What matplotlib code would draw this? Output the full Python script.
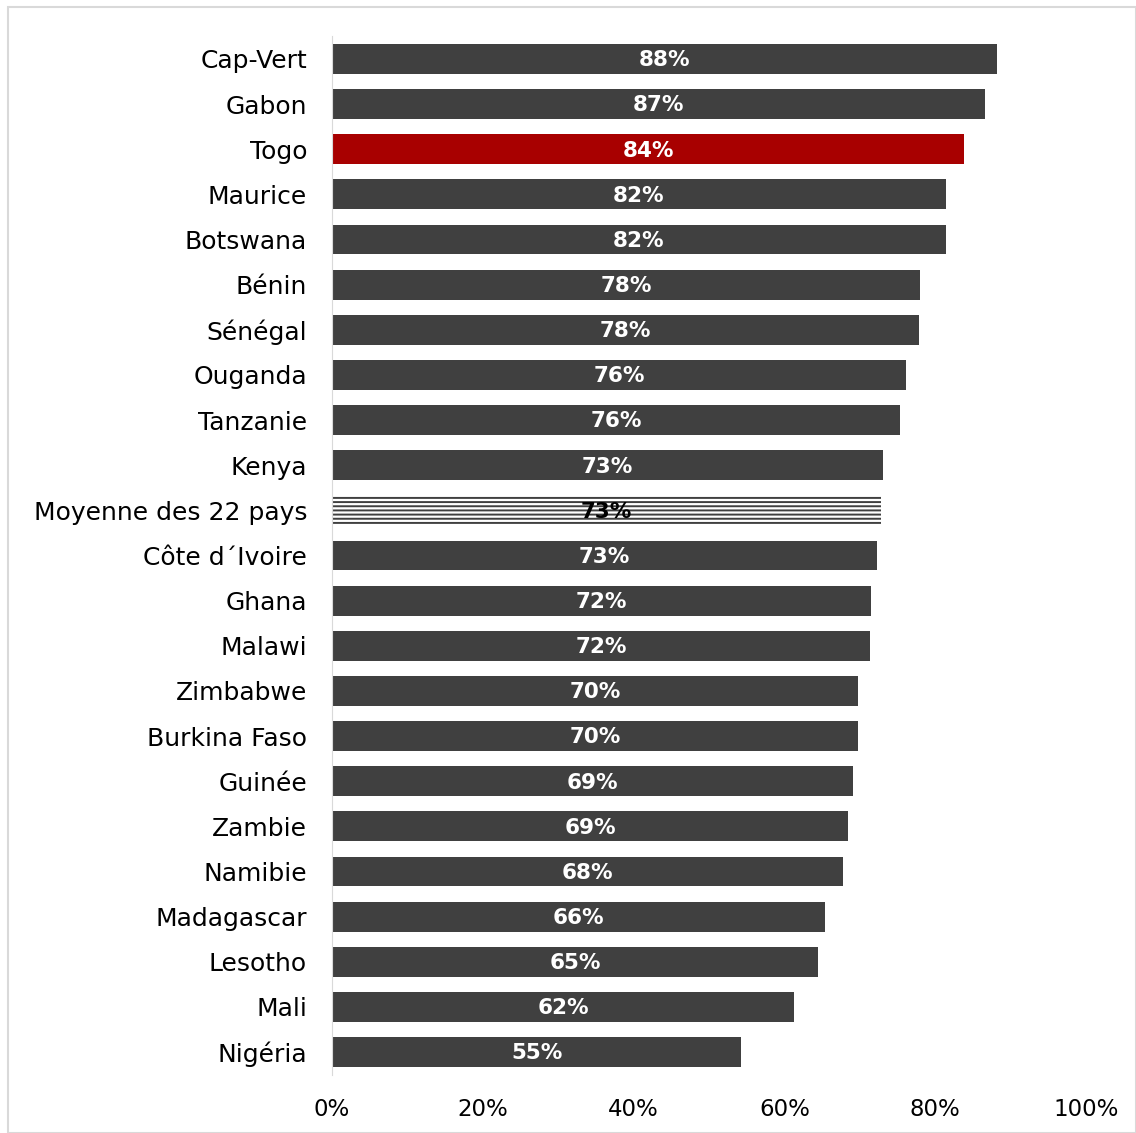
import numpy as np
import matplotlib.pyplot as plt
from matplotlib.patches import Rectangle

plt.rcParams['font.family'] = 'DejaVu Sans'
plt.rcParams['hatch.linewidth'] = 1.4

countries = ["Cap-Vert", "Gabon", "Togo", "Maurice", "Botswana", "Bénin", "Sénégal",
             "Ouganda", "Tanzanie", "Kenya", "Moyenne des 22 pays", "Côte d´Ivoire",
             "Ghana", "Malawi", "Zimbabwe", "Burkina Faso", "Guinée", "Zambie",
             "Namibie", "Madagascar", "Lesotho", "Mali", "Nigéria"]
values = [88.2, 86.6, 83.8, 81.4, 81.4, 78.0, 77.8, 76.1, 75.3, 73.1, 72.8, 72.3,
          71.5, 71.4, 69.8, 69.7, 69.1, 68.4, 67.8, 65.4, 64.4, 61.3, 54.3]
labels = ["88%", "87%", "84%", "82%", "82%", "78%", "78%", "76%", "76%", "73%", "73%",
          "73%", "72%", "72%", "70%", "70%", "69%", "69%", "68%", "66%", "65%", "62%", "55%"]

dark = "#404040"
red = "#A80000"

fig = plt.figure(figsize=(11.36, 11.33), dpi=100)
ax = fig.add_axes([0.2923, 0.0515, 0.6637, 0.9164])

y = np.arange(len(countries))
for i, (c, v, lab) in enumerate(zip(countries, values, labels)):
    if c == "Togo":
        ax.barh(i, v, height=0.66, color=red)
        col = "white"
    elif c.startswith("Moyenne"):
        ax.barh(i, v, height=0.66, color="white", edgecolor="#404040", hatch="----", linewidth=0)
        col = "black"
    else:
        ax.barh(i, v, height=0.66, color=dark)
        col = "white"
    ax.text(v / 2, i + 0.03, lab, ha="center", va="center", color=col,
            fontsize=15.5, fontweight="bold")

ax.set_yticks(y)
ax.set_yticklabels(countries, fontsize=18)
ax.set_ylim(len(countries) - 0.5, -0.5)
ax.set_xlim(0, 100)
ax.set_xticks(np.arange(0, 101, 20))
ax.set_xticklabels([f"{t}%" for t in range(0, 101, 20)], fontsize=16.5)
ax.tick_params(length=0, pad=18, axis="y")
ax.tick_params(length=0, pad=17, axis="x")
for s in ["top", "right", "bottom"]:
    ax.spines[s].set_visible(False)
ax.spines["left"].set_color("#D9D9D9")

fig.patches.append(Rectangle((8 / 1136, 0), 1 - 8 / 1136, 1 - 7 / 1133,
                             transform=fig.transFigure, fill=False,
                             edgecolor="#D9D9D9", linewidth=1.5))

fig.savefig("out.png", dpi=100)
